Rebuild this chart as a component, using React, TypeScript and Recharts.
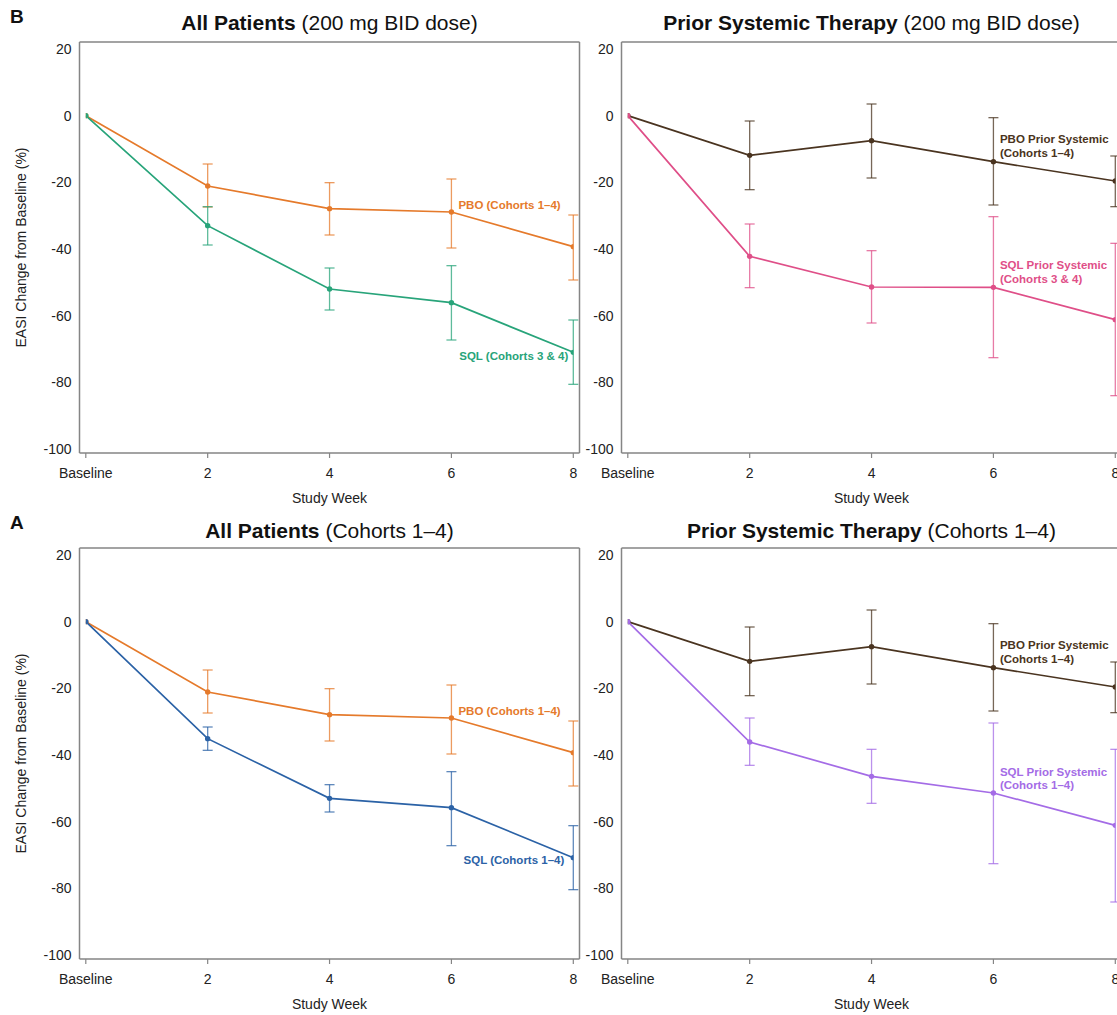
import React from 'react';
import { LineChart, Line, XAxis, YAxis, ErrorBar, CartesianGrid } from 'recharts';

// ---------- data ----------
const weeks = [0, 2, 4, 6, 8];
const weekLabels = ['Baseline', '2', '4', '6', '8'];
const yTicks = [-100, -80, -60, -40, -20, 0, 20];

// Placebo, all patients (Cohorts 1–4)
const pboAllMean = [0, -21.1, -27.9, -28.9, -39.3];
const pboAllLow = [null, -27.4, -35.8, -39.7, -49.3];
const pboAllHigh = [null, -14.5, -20.1, -19.0, -29.8];

// SQL, all patients, 200 mg BID (Cohorts 3 & 4)
const sqlC34Mean = [0, -33.0, -52.0, -56.1, -71.0];
const sqlC34Low = [null, -38.8, -58.3, -67.3, -80.6];
const sqlC34High = [null, -27.3, -45.7, -45.0, -61.3];

// SQL, all patients (Cohorts 1–4)
const sqlC14Mean = [0, -35.1, -53.0, -55.8, -70.8];
const sqlC14Low = [null, -38.6, -57.1, -67.2, -80.4];
const sqlC14High = [null, -31.6, -48.9, -45.0, -61.2];

// Placebo, prior systemic (Cohorts 1–4)
const pboPriorMean = [0, -11.9, -7.5, -13.8, -19.6];
const pboPriorLow = [null, -22.2, -18.7, -26.8, -27.3];
const pboPriorHigh = [null, -1.6, 3.5, -0.6, -12.1];

// SQL, prior systemic, 200 mg BID (Cohorts 3 & 4)
const sqlPriorC34Mean = [0, -42.2, -51.4, -51.5, -61.2];
const sqlPriorC34Low = [null, -51.6, -62.2, -72.6, -84.0];
const sqlPriorC34High = [null, -32.5, -40.5, -30.3, -38.3];

// SQL, prior systemic (Cohorts 1–4)
const sqlPriorC14Mean = [0, -36.1, -46.4, -51.4, -61.1];
const sqlPriorC14Low = [null, -43.1, -54.5, -72.6, -84.1];
const sqlPriorC14High = [null, -28.9, -38.3, -30.4, -38.3];

// ---------- styles ----------
const FONT = '"Liberation Sans", Arial, Helvetica, sans-serif';
const FRAME = '#858585';
const C_PBO = '#E57A2B';
const C_GREEN = '#28A47A';
const C_BLUE = '#2B62A6';
const C_BROWN = '#4A3420';
const C_PINK = '#DF4F88';
const C_PURPLE = '#A46CE6';

type Series = {
  key: string;
  color: string;
  mean: number[];
  low: (number | null)[];
  high: (number | null)[];
  lines: string[];
  at: number;
  dx: number;
  dys: number[];
  anchor: 'start' | 'end';
};

const SeriesLabel = (props: any) => {
  const { index, at, lines, dx, dys, anchor, color, value, atValue } = props;
  const x = props.viewBox?.x ?? props.x;
  const y = props.viewBox?.y ?? props.y;
  const hit = index !== undefined ? index === at : value === atValue;
  if (!hit || x == null || y == null) return null;
  return (
    <g>
      {lines.map((t: string, k: number) => (
        <text
          key={k}
          x={x + dx}
          y={y + dys[k]}
          fill={color}
          fontSize={11.5}
          fontWeight="bold"
          fontFamily={FONT}
          textAnchor={anchor}
        >
          {t}
        </text>
      ))}
    </g>
  );
};

function Panel({
  left,
  top,
  series,
  showYLabel,
}: {
  left: number;
  top: number;
  series: Series[];
  showYLabel: boolean;
}) {
  const rows = weeks.map((w, i) => {
    const r: any = { week: w };
    series.forEach((s) => {
      r[s.key] = s.mean[i];
      const lo = s.low[i];
      const hi = s.high[i];
      r[s.key + 'Err'] = lo == null || hi == null ? null : [s.mean[i] - lo, hi - s.mean[i]];
    });
    return r;
  });
  return (
    <div style={{ position: 'absolute', left, top }}>
      <LineChart
        width={590}
        height={515}
        data={rows}
        margin={{ top: 42, right: 10.5, bottom: 0, left: 0 }}
      >
        <CartesianGrid
          stroke={FRAME}
          strokeWidth={1.5}
          horizontalCoordinatesGenerator={(p: any) => [p.offset.top]}
          verticalCoordinatesGenerator={(p: any) => [p.offset.left + p.offset.width]}
        />
        <XAxis
          dataKey="week"
          type="number"
          domain={[0, 8]}
          allowDataOverflow
          ticks={weeks}
          tickFormatter={(v: number) => weekLabels[weeks.indexOf(v)]}
          padding={{ left: 6.3, right: 6.2 }}
          height={62}
          tickSize={5}
          tickMargin={10}
          interval={0}
          axisLine={{ stroke: FRAME, strokeWidth: 1.5 }}
          tickLine={{ stroke: FRAME, strokeWidth: 1.2 }}
          tick={{ fontSize: 14, fill: '#222', fontFamily: FONT }}
          label={{
            value: 'Study Week',
            position: 'insideBottom',
            offset: 12,
            fontSize: 14,
            fill: '#222',
            fontFamily: FONT,
          }}
        />
        <YAxis
          type="number"
          domain={[-100, 20]}
          allowDataOverflow
          ticks={yTicks}
          interval={0}
          width={79.5}
          padding={{ top: 7, bottom: 4 }}
          tickSize={0}
          tickMargin={8}
          tickLine={false}
          axisLine={{ stroke: FRAME, strokeWidth: 1.5 }}
          tick={{ fontSize: 14, fill: '#222', fontFamily: FONT }}
          label={
            showYLabel
              ? {
                  value: 'EASI Change from Baseline (%)',
                  angle: -90,
                  position: 'insideLeft',
                  offset: 21,
                  fontSize: 14,
                  fill: '#222',
                  fontFamily: FONT,
                  style: { textAnchor: 'middle' },
                }
              : undefined
          }
        />
        {series.map((s) => (
          <Line
            key={s.key}
            dataKey={s.key}
            type="linear"
            stroke={s.color}
            strokeWidth={1.7}
            dot={{ r: 2.7, fill: s.color, stroke: s.color, strokeWidth: 0 }}
            activeDot={false}
            isAnimationActive={false}
            label={
              <SeriesLabel
                at={s.at}
                atValue={s.mean[s.at]}
                lines={s.lines}
                dx={s.dx}
                dys={s.dys}
                anchor={s.anchor}
                color={s.color}
              />
            }
          >
            <ErrorBar
              dataKey={s.key + 'Err'}
              direction="y"
              width={5}
              stroke={s.color}
              strokeOpacity={0.75}
              strokeWidth={1.3}
              isAnimationActive={false}
            />
          </Line>
        ))}
      </LineChart>
    </div>
  );
}

const titleStyle: React.CSSProperties = {
  position: 'absolute',
  width: 500,
  textAlign: 'center',
  fontSize: 21,
  lineHeight: '21px',
  fontFamily: FONT,
  color: '#111',
  whiteSpace: 'nowrap',
};
const letterStyle: React.CSSProperties = {
  position: 'absolute',
  left: 10,
  fontSize: 19,
  lineHeight: '19px',
  fontWeight: 'bold',
  fontFamily: FONT,
  color: '#111',
};

export default function App() {
  const pboAll = (k: string, dx: number, dy: number): Series => ({
    key: k,
    color: C_PBO,
    mean: pboAllMean,
    low: pboAllLow,
    high: pboAllHigh,
    lines: ['PBO (Cohorts 1–4)'],
    at: 3,
    dx,
    dys: [dy],
    anchor: 'start',
  });
  const pboPrior = (k: string, dys: number[]): Series => ({
    key: k,
    color: C_BROWN,
    mean: pboPriorMean,
    low: pboPriorLow,
    high: pboPriorHigh,
    lines: ['PBO Prior Systemic', '(Cohorts 1–4)'],
    at: 3,
    dx: 6.5,
    dys,
    anchor: 'start',
  });

  const bLeft: Series[] = [
    pboAll('pbo', 7, -3),
    {
      key: 'sql',
      color: C_GREEN,
      mean: sqlC34Mean,
      low: sqlC34Low,
      high: sqlC34High,
      lines: ['SQL (Cohorts 3 & 4)'],
      at: 4,
      dx: -5,
      dys: [8],
      anchor: 'end',
    },
  ];
  const bRight: Series[] = [
    pboPrior('pbo', [-18.4, -4.4]),
    {
      key: 'sql',
      color: C_PINK,
      mean: sqlPriorC34Mean,
      low: sqlPriorC34Low,
      high: sqlPriorC34High,
      lines: ['SQL Prior Systemic', '(Cohorts 3 & 4)'],
      at: 3,
      dx: 6.5,
      dys: [-18.3, -4.3],
      anchor: 'start',
    },
  ];
  const aLeft: Series[] = [
    pboAll('pbo', 7, -3),
    {
      key: 'sql',
      color: C_BLUE,
      mean: sqlC14Mean,
      low: sqlC14Low,
      high: sqlC14High,
      lines: ['SQL (Cohorts 1–4)'],
      at: 4,
      dx: -9,
      dys: [6],
      anchor: 'end',
    },
  ];
  const aRight: Series[] = [
    pboPrior('pbo', [-18.6, -5]),
    {
      key: 'sql',
      color: C_PURPLE,
      mean: sqlPriorC14Mean,
      low: sqlPriorC14Low,
      high: sqlPriorC14High,
      lines: ['SQL Prior Systemic', '(Cohorts 1–4)'],
      at: 3,
      dx: 6.5,
      dys: [-16.6, -3.6],
      anchor: 'start',
    },
  ];

  return (
    <div
      style={{
        position: 'absolute',
        left: 0,
        top: 0,
        width: 1117,
        height: 1015,
        overflow: 'hidden',
        background: '#fff',
      }}
    >
      <Panel left={0} top={0} series={bLeft} showYLabel />
      <Panel left={542} top={0} series={bRight} showYLabel={false} />
      <Panel left={0} top={506} series={aLeft} showYLabel />
      <Panel left={542} top={506} series={aRight} showYLabel={false} />

      <div style={{ ...letterStyle, top: 7 }}>B</div>
      <div style={{ ...letterStyle, top: 513 }}>A</div>

      <div style={{ ...titleStyle, left: 79.5, top: 12 }}>
        <b>All Patients</b> (200 mg BID dose)
      </div>
      <div style={{ ...titleStyle, left: 621.5, top: 12 }}>
        <b>Prior Systemic Therapy</b> (200 mg BID dose)
      </div>
      <div style={{ ...titleStyle, left: 79.5, top: 520 }}>
        <b>All Patients</b> (Cohorts 1–4)
      </div>
      <div style={{ ...titleStyle, left: 621.5, top: 520 }}>
        <b>Prior Systemic Therapy</b> (Cohorts 1–4)
      </div>
    </div>
  );
}
